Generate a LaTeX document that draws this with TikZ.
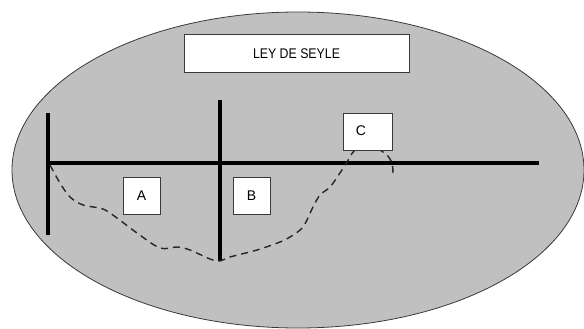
\documentclass[tikz,border=0pt]{standalone}
\usepackage{fontspec}
\setmainfont{Liberation Sans}
\definecolor{panel}{HTML}{C0C0C0}
\definecolor{rim}{HTML}{3A3A3A}
\begin{document}
\begin{tikzpicture}[x=1pt,y=-1pt,
  labelbox/.style={draw=rim,line width=1pt,fill=white,inner sep=0pt,
    font=\fontsize{14}{16}\selectfont},
  axis/.style={line width=4.5pt},
  trace/.style={dashed,line width=1.4pt,dash pattern=on 7pt off 5pt,color=black!85}]
\useasboundingbox (0,0) rectangle (584,329);
% grey oval background
\draw[fill=panel,draw=rim,line width=0.8pt] (298,170) ellipse [x radius=286,y radius=158];
% title
\node[labelbox,minimum width=225pt,minimum height=38pt] (title) at (296.5,54)
  {\scalebox{0.88}[1]{LEY DE SEYLE}};
% axes
\coordinate (hL) at (48,163);
\coordinate (hR) at (539,163);
\coordinate (v1t) at (48,113);
\coordinate (v1b) at (48,235);
\coordinate (v2t) at (220,100);
\coordinate (v2b) at (220,261);
\draw[axis] (hL) -- (hR);
\draw[axis] (v1t) -- (v1b);
\draw[axis] (v2t) -- (v2b);
% dashed trace
\draw[trace] plot[smooth,tension=0.55] coordinates {
  (50,165) (60,183) (70,197) (83,205) (103,209) (117,218) (137,233)
  (160,248) (177,247) (190,250) (210,259) (220,261) (230,257) (257,250)
  (280,242) (290,237) (303,227) (313,207) (320,195) (330,187) (340,173)
  (347,162) (354,151) (367,140) (380,150) (387,155) (392,163) (393,173)};
% region labels
\node[labelbox,minimum width=37pt,minimum height=37pt] (A) at (141.5,195.5) {A};
\node[labelbox,minimum width=37pt,minimum height=37pt] (B) at (251.5,195.5) {B};
\node[labelbox,minimum width=49pt,minimum height=37pt] (C) at (367.5,131.5) {};
\node[font=\fontsize{14}{16}\selectfont,inner sep=0pt] (Ctext) at (361,131) {C};
\end{tikzpicture}
\end{document}
